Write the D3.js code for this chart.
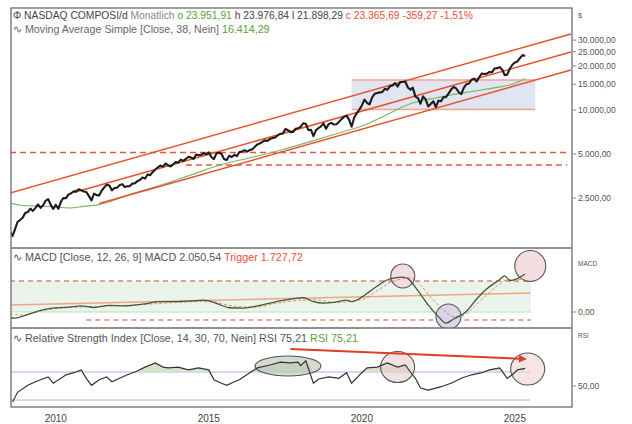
<!DOCTYPE html>
<html>
<head>
<meta charset="utf-8">
<script src="https://cdn.jsdelivr.net/npm/d3@7"></script>
<style>
  body { margin: 0; background: #fff; }
  text { font-family: "Liberation Sans", Arial, sans-serif; }
</style>
</head>
<body>
<script>
// monthly closes NASDAQ Composite, Jan 2009 .. Nov 2025
var firstMonth = "2009-01";
var closes = [
  1476,1378,1529,1717,1774,1835,1979,2009,2122,2045,2145,2269,
  2147,2238,2398,2461,2257,2109,2255,2114,2369,2507,2498,2653,
  2700,2782,2781,2874,2835,2774,2756,2579,2415,2684,2620,2605,
  2814,2967,3092,3046,2827,2935,2940,3067,3116,2977,3010,3020,
  3142,3160,3268,3329,3456,3403,3626,3590,3771,3920,4060,4177,
  4104,4308,4199,4115,4243,4408,4370,4580,4493,4631,4792,4736,
  4635,4964,4901,4941,5070,4987,5128,4777,4620,5054,5109,5007,
  4614,4558,4870,4775,4948,4843,5162,5213,5312,5189,5324,5383,
  5615,5825,5912,6048,6199,6140,6348,6429,6496,6728,6874,6903,
  7411,7273,7063,7066,7442,7510,7672,8110,8046,7306,7331,6635,
  7282,7533,7729,8095,7453,8006,8175,7963,7999,8292,8665,8973,
  9151,8567,7700,8890,9490,10059,10745,11775,11168,10912,12199,12888,
  13071,13192,13247,13962,13749,14504,14673,15259,14448,15498,15538,15645,
  14240,13751,14221,12335,12081,11029,12391,11816,10576,10988,11468,10466,
  11585,11456,12222,12227,12935,13788,14346,14035,13219,12851,14226,15011,
  15164,16092,16379,15658,16735,17733,17599,17714,18189,18095,19218,19311,
  19627,18847,17299,17446,19114,20370,21122,21456,22660,23725,23366
];

// simple moving average (38)
var maMonths = ["2009-01","2009-06","2009-12","2010-06","2010-12","2011-06","2011-12","2012-12","2013-12","2014-12",
  "2015-12","2016-12","2017-12","2018-12","2019-12","2020-06","2020-12","2021-06","2021-12","2022-06",
  "2022-12","2023-06","2023-12","2024-06","2024-12","2025-06","2025-11"];
var maValues = [2312,2228,2210,2182,2142,2196,2258,2648,3060,3603,
  4240,4753,5380,6176,7138,7658,8483,9513,10696,11566,
  12088,12674,13188,13693,14272,14982,16414];

// MACD line and trigger
var macdMonths = ["2009-01","2009-03","2009-07","2009-12","2010-05","2010-12","2011-05","2011-10","2012-04","2012-10",
  "2013-05","2013-12","2014-05","2014-12","2015-05","2015-10","2016-03","2016-08","2017-01","2017-07",
  "2018-01","2018-08","2018-12","2019-04","2019-08","2020-01","2020-03","2020-07","2020-10","2021-02",
  "2021-06","2021-11","2022-01","2022-05","2022-09","2023-01","2023-04","2023-07","2023-12","2024-04",
  "2024-08","2025-01","2025-03","2025-05","2025-07","2025-11"];
var macdValues = [-300,-330,-180,50,200,260,330,240,360,330,
  420,560,560,600,640,470,230,210,300,480,
  650,780,560,480,520,640,560,800,1100,1500,
  1780,1880,1800,1150,380,-250,-600,-380,30,700,
  1250,1750,1950,1700,1750,2050];
var triggerMonths = ["2009-01","2009-07","2010-01","2010-07","2011-07","2012-07","2013-07","2014-07","2015-07","2016-04",
  "2017-01","2017-10","2018-07","2019-01","2019-08","2020-03","2020-08","2021-01","2021-06","2021-11",
  "2022-02","2022-06","2022-10","2023-03","2023-07","2023-11","2024-03","2024-07","2024-12","2025-04",
  "2025-07","2025-11"];
var triggerValues = [-150,-150,50,180,280,340,420,520,580,330,
  260,480,640,660,520,580,720,1150,1580,1800,
  1850,1450,800,100,-250,-180,300,800,1400,1750,
  1760,1728];

// RSI (14)
var rsiMonths = ["2009-02","2009-04","2009-08","2009-11","2010-01","2010-04","2010-06","2010-09","2010-11","2011-02",
  "2011-05","2011-07","2011-09","2011-12","2012-03","2012-05","2012-08","2012-11","2013-02","2013-06",
  "2013-10","2014-01","2014-03","2014-07","2014-11","2015-03","2015-07","2015-09","2015-12","2016-02",
  "2016-05","2016-07","2016-11","2017-02","2017-07","2017-11","2018-03","2018-06","2018-07","2018-09",
  "2018-12","2019-02","2019-06","2019-10","2020-01","2020-03","2020-07","2020-09","2021-01","2021-05",
  "2021-09","2021-12","2022-02","2022-04","2022-06","2022-09","2022-12","2023-02","2023-06","2023-10",
  "2024-02","2024-06","2024-09","2025-01","2025-04","2025-06","2025-08","2025-11"];
var rsiValues = [27,41,51,56,59,63,54,61,66,69,
  73,61,51,59,63,56,61,66,70,77,
  83,77,76,77,73,76,73,59,54,51,
  56,59,69,76,80,84,83,84,79,86,
  54,60,63,61,69,54,69,76,77,83,
  77,80,70,61,47,44,47,49,54,61,
  66,69,73,76,61,66,73,75.21];

// axis labels
var priceTicks = [2500, 5000, 10000, 15000, 20000, 25000, 30000];
var yearLabels = [2010, 2015, 2020, 2025];

// drawing tools on the chart: [start month, start value, end month, end value]
var channelLines = [
  ["2009-01", 2711, "2027-05", 33050],
  ["2011-02", 2728, "2027-05", 24900],
  ["2011-12", 2295, "2027-05", 18760]
];
var priceLevels = [["2009-01", 5132], ["2014-10", 4210]];
var rangeBox = ["2020-03", 16057, "2026-03", 10088];
var macdLevels = [["2009-01", 1672], ["2011-07", -431]];
var macdTrend = ["2009-01", 378, "2026-01", 1025];
var macdMarks = [["2021-11", 1942, 12, "#f2dde2"], ["2023-05", -243, 12.5, "#d9d6ea"], ["2026-01", 2481, 15.5, "#f4dde0"]];
var rsiMarks = [["2018-02", 78.6, 33, 10, "#b9c2b4"], ["2021-09", 77.1, 17, 15.5, "#e7cfcf"], ["2025-12", 74.3, 17, 16, "#f2d4d4"]];
var rsiArrow = ["2018-03", 102.9, "2025-11", 88.6];

var width = 632, height = 424;
var left = 11, right = 572;
var parseMonth = d3.timeParse("%Y-%m");

var de = d3.formatLocale({decimal: ",", thousands: ".", grouping: [3], currency: ["", " €"]});
var fmt = de.format(",.2f");

var svg = d3.select("body").append("svg")
  .attr("width", width)
  .attr("height", height);

var x = d3.scaleTime()
  .domain([new Date(2009, 0, 1), new Date(2027, 4, 14)])
  .range([10, right]);

// panels
var panels = {main: [8, 248], macd: [248, 328], rsi: [328, 407]};

var yMain = d3.scaleLog().domain([1141, 49742]).range([248, 8]);
var yMacd = d3.scaleLinear().domain([-863, 3344]).range([328, 250]);
var yRsi = d3.scaleLinear().domain([0, 100]).range([421, 351]);

var defs = svg.append("defs");
Object.keys(panels).forEach(function(k){
  defs.append("clipPath").attr("id", "clip-" + k)
    .append("rect")
    .attr("x", left).attr("y", panels[k][0])
    .attr("width", right - left).attr("height", panels[k][1] - panels[k][0]);
});
defs.append("marker").attr("id", "arrow")
  .attr("viewBox", "0 0 10 10").attr("refX", 8).attr("refY", 5)
  .attr("markerWidth", 4).attr("markerHeight", 4).attr("orient", "auto")
  .append("path").attr("d", "M0,0L10,5L0,10z").attr("fill", "#e23c22");

var priceData = closes.map(function(v, i){
  var d = parseMonth(firstMonth);
  return {date: d3.timeMonth.offset(d, i), value: v};
});
function pairs(months, values){
  return months.map(function(m, i){ return {date: parseMonth(m), value: values[i]}; });
}

// ---------------- main panel ----------------
var gMain = svg.append("g").attr("clip-path", "url(#clip-main)");

gMain.append("rect")
  .attr("x", x(parseMonth(rangeBox[0])))
  .attr("y", yMain(rangeBox[1]))
  .attr("width", x(parseMonth(rangeBox[2])) - x(parseMonth(rangeBox[0])))
  .attr("height", yMain(rangeBox[3]) - yMain(rangeBox[1]))
  .attr("fill", "#e1e4f1");
[rangeBox[1], rangeBox[3]].forEach(function(v){
  gMain.append("line")
    .attr("x1", x(parseMonth(rangeBox[0]))).attr("x2", x(parseMonth(rangeBox[2])))
    .attr("y1", yMain(v)).attr("y2", yMain(v))
    .attr("stroke", "#f0a58e").attr("stroke-width", 1.5);
});

gMain.selectAll(".level").data(priceLevels).enter().append("line")
  .attr("class", "level")
  .attr("x1", function(d){ return x(parseMonth(d[0])); })
  .attr("x2", 567)
  .attr("y1", function(d){ return yMain(d[1]); })
  .attr("y2", function(d){ return yMain(d[1]); })
  .attr("stroke", "#e4573a").attr("stroke-width", 1.5)
  .attr("stroke-dasharray", "6,4");

gMain.append("path")
  .datum(pairs(maMonths, maValues))
  .attr("fill", "none").attr("stroke", "#7ab468").attr("stroke-width", 1.1)
  .attr("d", d3.line().curve(d3.curveMonotoneX)
    .x(function(d){ return x(d.date); })
    .y(function(d){ return yMain(d.value); }));

gMain.selectAll(".channel").data(channelLines).enter().append("line")
  .attr("class", "channel")
  .attr("x1", function(d){ return x(parseMonth(d[0])); })
  .attr("y1", function(d){ return yMain(d[1]); })
  .attr("x2", function(d){ return x(parseMonth(d[2])); })
  .attr("y2", function(d){ return yMain(d[3]); })
  .attr("stroke", "#e8512c").attr("stroke-width", 1.5);

gMain.append("path")
  .datum(priceData)
  .attr("fill", "none").attr("stroke", "#1c1c1c").attr("stroke-width", 2.1)
  .attr("stroke-linejoin", "round")
  .attr("d", d3.line()
    .x(function(d){ return x(d.date); })
    .y(function(d){ return yMain(d.value); }));

// ---------------- MACD panel ----------------
var gMacd = svg.append("g").attr("clip-path", "url(#clip-macd)");

gMacd.append("rect")
  .attr("x", left).attr("width", 531 - left)
  .attr("y", yMacd(macdLevels[0][1]))
  .attr("height", yMacd(0) - yMacd(macdLevels[0][1]))
  .attr("fill", "#eaf4ea");
gMacd.append("line")
  .attr("x1", left).attr("x2", 531)
  .attr("y1", yMacd(0)).attr("y2", yMacd(0))
  .attr("stroke", "#bfe0bf").attr("stroke-width", 1.2);

gMacd.selectAll(".mlevel").data(macdLevels).enter().append("line")
  .attr("x1", function(d){ return x(parseMonth(d[0])); })
  .attr("x2", 531)
  .attr("y1", function(d){ return yMacd(d[1]); })
  .attr("y2", function(d){ return yMacd(d[1]); })
  .attr("stroke", "#e8826a").attr("stroke-width", 1.3)
  .attr("stroke-dasharray", "5,4");

gMacd.append("line")
  .attr("x1", x(parseMonth(macdTrend[0]))).attr("y1", yMacd(macdTrend[1]))
  .attr("x2", x(parseMonth(macdTrend[2]))).attr("y2", yMacd(macdTrend[3]))
  .attr("stroke", "#f0a483").attr("stroke-width", 1.5);

gMacd.selectAll(".mmark").data(macdMarks).enter().append("circle")
  .attr("cx", function(d){ return x(parseMonth(d[0])); })
  .attr("cy", function(d){ return yMacd(d[1]); })
  .attr("r", function(d){ return d[2]; })
  .attr("fill", function(d){ return d[3]; })
  .attr("stroke", "#555").attr("stroke-width", 1.1);

gMacd.append("path")
  .datum(pairs(triggerMonths, triggerValues))
  .attr("fill", "none").attr("stroke", "#e0553c").attr("stroke-width", 0.9)
  .attr("stroke-opacity", 0.75)
  .attr("stroke-dasharray", "3,2")
  .attr("d", d3.line().curve(d3.curveMonotoneX)
    .x(function(d){ return x(d.date); })
    .y(function(d){ return yMacd(d.value); }));

gMacd.append("path")
  .datum(pairs(macdMonths, macdValues))
  .attr("fill", "none").attr("stroke", "#3e5a36").attr("stroke-width", 1.3)
  .attr("d", d3.line().curve(d3.curveMonotoneX)
    .x(function(d){ return x(d.date); })
    .y(function(d){ return yMacd(d.value); }));

// ---------------- RSI panel ----------------
var gRsi = svg.append("g").attr("clip-path", "url(#clip-rsi)");
var rsiData = pairs(rsiMonths, rsiValues);

[70, 30].forEach(function(v){
  gRsi.append("line")
    .attr("x1", left).attr("x2", 530)
    .attr("y1", yRsi(v)).attr("y2", yRsi(v))
    .attr("stroke", "#c3cdef").attr("stroke-width", 1.5);
});

gRsi.append("path")
  .datum(rsiData)
  .attr("fill", "#d6e3cf")
  .attr("d", d3.area()
    .x(function(d){ return x(d.date); })
    .y0(yRsi(70))
    .y1(function(d){ return yRsi(Math.max(d.value, 70)); }));

gRsi.selectAll(".rmark").data(rsiMarks).enter().append("ellipse")
  .attr("cx", function(d){ return x(parseMonth(d[0])); })
  .attr("cy", function(d){ return yRsi(d[1]); })
  .attr("rx", function(d){ return d[2]; })
  .attr("ry", function(d){ return d[3]; })
  .attr("fill", function(d){ return d[4]; })
  .attr("fill-opacity", 0.6)
  .attr("stroke", "#555").attr("stroke-width", 1.1);

gRsi.append("path")
  .datum(rsiData)
  .attr("fill", "none").attr("stroke", "#333").attr("stroke-width", 1.2)
  .attr("d", d3.line()
    .x(function(d){ return x(d.date); })
    .y(function(d){ return yRsi(d.value); }));

gRsi.append("line")
  .attr("x1", x(parseMonth(rsiArrow[0]))).attr("y1", yRsi(rsiArrow[1]))
  .attr("x2", x(parseMonth(rsiArrow[2]))).attr("y2", yRsi(rsiArrow[3]))
  .attr("stroke", "#e23c22").attr("stroke-width", 2)
  .attr("marker-end", "url(#arrow)");

// ---------------- frame ----------------
svg.append("rect")
  .attr("x", left).attr("y", 8)
  .attr("width", right - left).attr("height", 407 - 8)
  .attr("fill", "none").attr("stroke", "#6d6d6d").attr("stroke-width", 1.3);
[248, 328].forEach(function(yy){
  svg.append("line").attr("x1", left).attr("x2", right)
    .attr("y1", yy).attr("y2", yy)
    .attr("stroke", "#6d6d6d").attr("stroke-width", 1.3);
});

// right axes
var axisG = svg.append("g").attr("font-size", 8.5).attr("fill", "#555");
priceTicks.forEach(function(v){
  var yy = yMain(v);
  svg.append("line").attr("x1", right).attr("x2", right + 4).attr("y1", yy).attr("y2", yy)
    .attr("stroke", "#888");
  axisG.append("text").attr("x", right + 6).attr("y", yy + 3).text(fmt(v));
});
axisG.append("text").attr("x", right + 6).attr("y", 18).attr("font-size", 7).text("$");
axisG.append("text").attr("x", right + 6).attr("y", 266).attr("font-size", 6.5).text("MACD");
svg.append("line").attr("x1", right).attr("x2", right + 4).attr("y1", yMacd(0)).attr("y2", yMacd(0)).attr("stroke", "#888");
axisG.append("text").attr("x", right + 6).attr("y", yMacd(0) + 3).text(fmt(0));
axisG.append("text").attr("x", right + 6).attr("y", 338).attr("font-size", 6.5).text("RSI");
svg.append("line").attr("x1", right).attr("x2", right + 4).attr("y1", yRsi(50)).attr("y2", yRsi(50)).attr("stroke", "#888");
axisG.append("text").attr("x", right + 6).attr("y", yRsi(50) + 3).text(fmt(50));

// year labels (centred on each year)
svg.selectAll(".year").data(yearLabels).enter().append("text")
  .attr("x", function(d){ return x(new Date(d, 6, 1)); })
  .attr("y", 422)
  .attr("text-anchor", "middle")
  .attr("font-size", 10).attr("fill", "#444")
  .text(function(d){ return d; });

// titles
function title(yy, size, parts){
  var t = svg.append("text").attr("x", 13).attr("y", yy).attr("font-size", size);
  parts.forEach(function(p){
    t.append("tspan").attr("fill", p[1]).text(p[0]);
  });
}
title(18.5, 10.3, [["\u03A6 NASDAQ COMPOSI/d ", "#444"], ["Monatlich ", "#888"], ["o 23.951,91 ", "#5c9e3c"],
  ["h 23.976,84 l 21.898,29 ", "#444"], ["c 23.365,69 -359,27 -1,51%", "#e8503a"]]);
title(33, 10.7, [["\u223F Moving Average Simple [Close, 38, Nein] ", "#666"], ["16.414,29", "#5c9e3c"]]);
title(261, 10.8, [["\u223F MACD [Close, 12, 26, 9] MACD 2.050,54 ", "#555"], ["Trigger 1.727,72", "#e8503a"]]);
title(342, 10.8, [["\u223F Relative Strength Index [Close, 14, 30, 70, Nein] RSI 75,21 ", "#555"], ["RSI 75,21", "#5c9e3c"]]);
</script>
</body>
</html>
